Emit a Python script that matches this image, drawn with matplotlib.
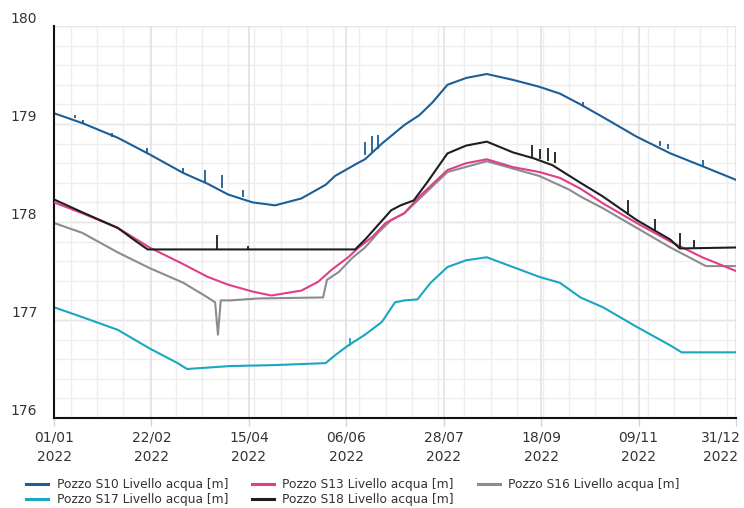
import numpy as np
import pandas as pd
import matplotlib
matplotlib.use("Agg")
import matplotlib.pyplot as plt
import matplotlib.dates as mdates
import matplotlib.transforms as mtransforms

# ---------------- data (day offset from 2022-01-01, level in m) ----------------
series_names = ["Pozzo S10 Livello acqua [m]", "Pozzo S13 Livello acqua [m]",
                "Pozzo S16 Livello acqua [m]", "Pozzo S17 Livello acqua [m]",
                "Pozzo S18 Livello acqua [m]"]

s10_day = [0, 15, 34, 51, 69, 82, 93, 106, 118, 132, 145, 150, 162, 166, 175, 187, 195,
           202, 210, 220, 231, 245, 259, 270, 281, 293, 311, 329, 346, 364]
s10_val = [179.11, 179.01, 178.86, 178.69, 178.50, 178.39, 178.28, 178.20, 178.17, 178.24,
           178.38, 178.47, 178.60, 178.64, 178.80, 178.99, 179.09, 179.22, 179.40, 179.47,
           179.51, 179.45, 179.38, 179.31, 179.20, 179.07, 178.87, 178.70, 178.57, 178.43]
s10_spike_day = [11, 15.5, 31, 49.6, 69, 80.6, 89.7, 101, 166, 169.7, 172.9, 282.4, 323.4, 327.7, 346.4]
s10_spike_base = [179.06, 179.00, 178.87, 178.69, 178.50, 178.41, 178.35, 178.26, 178.68, 178.71,
                  178.74, 179.17, 178.78, 178.74, 178.57]
s10_spike_top = [179.09, 179.04, 178.91, 178.76, 178.55, 178.53, 178.48, 178.33, 178.82, 178.88,
                 178.89, 179.22, 178.83, 178.80, 178.63]

s13_day = [0, 15, 34, 51, 69, 82, 93, 106, 116, 132, 141, 148, 157, 162, 170, 177, 187,
           195, 210, 220, 231, 245, 259, 270, 281, 293, 311, 329, 346, 364]
s13_val = [178.20, 178.09, 177.94, 177.74, 177.57, 177.44, 177.36, 177.29, 177.25, 177.30,
           177.39, 177.51, 177.64, 177.73, 177.85, 177.99, 178.09, 178.26, 178.53, 178.60,
           178.64, 178.56, 178.51, 178.45, 178.34, 178.19, 177.99, 177.80, 177.64, 177.50]

s16_day = [0, 15, 34, 51, 69, 82, 86, 87.5, 89, 94, 109, 143.6, 145.7, 152, 159, 166, 173,
           180, 187, 210, 231, 259, 275, 281, 293, 311, 329, 348, 364]
s16_val = [177.99, 177.89, 177.69, 177.53, 177.38, 177.23, 177.18, 176.85, 177.20, 177.20,
           177.22, 177.23, 177.41, 177.49, 177.63, 177.74, 177.89, 178.02, 178.09, 178.51,
           178.62, 178.47, 178.33, 178.26, 178.14, 177.94, 177.74, 177.55, 177.55]

s17_day = [0, 15, 34, 51, 66, 71, 94, 118, 145, 150, 157, 166, 175, 182, 187, 194, 201,
           210, 220, 231, 245, 259, 270, 281, 293, 311, 329, 335, 364]
s17_val = [177.13, 177.03, 176.90, 176.71, 176.56, 176.50, 176.53, 176.54, 176.56, 176.64,
           176.74, 176.85, 176.98, 177.18, 177.20, 177.21, 177.38, 177.54, 177.61, 177.64,
           177.54, 177.44, 177.38, 177.23, 177.13, 176.93, 176.74, 176.67, 176.67]
s17_spike_day = [158]
s17_spike_base = [176.73]
s17_spike_top = [176.82]

s18_day = [0, 15, 34, 44, 50, 80, 110, 140, 160.7, 166, 173, 180, 185, 192, 199, 210,
           220, 231, 245, 256, 266, 281, 293, 311, 329, 334, 364]
s18_val = [178.23, 178.10, 177.94, 177.80, 177.72, 177.72, 177.72, 177.72, 177.72, 177.82,
           177.97, 178.12, 178.17, 178.22, 178.40, 178.70, 178.78, 178.82, 178.71, 178.65,
           178.58, 178.40, 178.26, 178.02, 177.82, 177.73, 177.74]
s18_spike_day = [87, 103.5, 255.1, 259.4, 263.7, 267.4, 306.4, 320.8, 334.1, 341.6]
s18_spike_base = [177.72, 177.72, 178.66, 178.64, 178.62, 178.60, 178.07, 177.91, 177.73, 177.72]
s18_spike_top = [177.87, 177.76, 178.79, 178.74, 178.76, 178.71, 178.22, 178.03, 177.89, 177.82]

colors = ["#1b5e98", "#e03d8b", "#8c8c8c", "#1ba6c1", "#1e1e1e"]

# ---------------- plot ----------------
plt.rcParams['font.family'] = ['DejaVu Sans']
fig = plt.figure(figsize=(7.44, 5.08), dpi=100)
ax = fig.add_axes([54/744, 1-418/508, (736-54)/744, (418-26)/508])

start = pd.Timestamp("2022-01-01")
def to_dates(d):
    return start + pd.to_timedelta(np.asarray(d, dtype=float), unit="D")

# grid
for k in np.arange(176.2, 180.0, 0.2):
    ax.axhline(k, color="#eeeeee", lw=1.0, zorder=0)
for k in range(177, 181):
    ax.axhline(k, color="#e6e6e6", lw=1.0, zorder=0)
for d in np.arange(9, 365, 14):
    ax.axvline(to_dates([d])[0], color="#eeeeee", lw=1.0, zorder=0)
major_days = np.arange(0, 365, 52)
for d in major_days:
    ax.axvline(to_dates([d])[0], color="#e2e2e2", lw=1.2, zorder=0)

lw = 1.5
data = [(s10_day, s10_val), (s13_day, s13_val), (s16_day, s16_val),
        (s17_day, s17_val), (s18_day, s18_val)]
order_z = [2, 3, 2, 2, 4]
handles = []
for (d, v), c, name, z in zip(data, colors, series_names, order_z):
    h, = ax.plot(to_dates(d), v, color=c, lw=lw, label=name, zorder=z,
                 solid_joinstyle="round")
    handles.append(h)

ax.vlines(to_dates(s10_spike_day), s10_spike_base, s10_spike_top, color=colors[0], lw=1.3, zorder=2)
ax.vlines(to_dates(s17_spike_day), s17_spike_base, s17_spike_top, color=colors[3], lw=1.3, zorder=2)
ax.vlines(to_dates(s18_spike_day), s18_spike_base, s18_spike_top, color=colors[4], lw=1.3, zorder=4)

ax.set_xlim(to_dates([0])[0], to_dates([364])[0])
ax.set_ylim(176, 180)
ax.set_xticks(to_dates(major_days))
ax.xaxis.set_major_formatter(mdates.DateFormatter("%d/%m\n%Y"))
ax.set_yticks([176, 177, 178, 179, 180])
ax.set_yticklabels(["176", "177", "178", "179", "180"])
ax.tick_params(axis="x", length=6, color="#c9d5ea", width=1, labelsize=10,
               labelcolor="#333333", pad=3)
ax.tick_params(axis="y", length=0, labelsize=10, labelcolor="#333333", pad=12)
for lab in ax.get_yticklabels():
    lab.set_verticalalignment("bottom")
xlabs = ax.get_xticklabels()
for lab in xlabs:
    lab.set_linespacing(1.5)
shift = mtransforms.ScaledTranslation(-15/100, 0, fig.dpi_scale_trans)
xlabs[-1].set_transform(xlabs[-1].get_transform() + shift)

for s in ["top", "right"]:
    ax.spines[s].set_visible(False)
ax.spines["left"].set_color("#111111")
ax.spines["left"].set_linewidth(1.5)
ax.spines["bottom"].set_color("#111111")
ax.spines["bottom"].set_linewidth(1.5)

# legend order so rows read S10,S13,S16 / S17,S18
leg_order = [0, 3, 1, 4, 2]
leg = fig.legend([handles[i] for i in leg_order], [series_names[i] for i in leg_order],
                 ncol=3, loc="upper left", bbox_to_anchor=(26/744, 1-478/508),
                 frameon=False, fontsize=8.8, handlelength=1.8, handletextpad=0.7,
                 columnspacing=1.95, labelspacing=0.2, borderaxespad=0, borderpad=0)
for t in leg.get_texts():
    t.set_color("#333333")
for l in leg.get_lines():
    l.set_linewidth(2.2)

fig.savefig("out.png", dpi=100)
